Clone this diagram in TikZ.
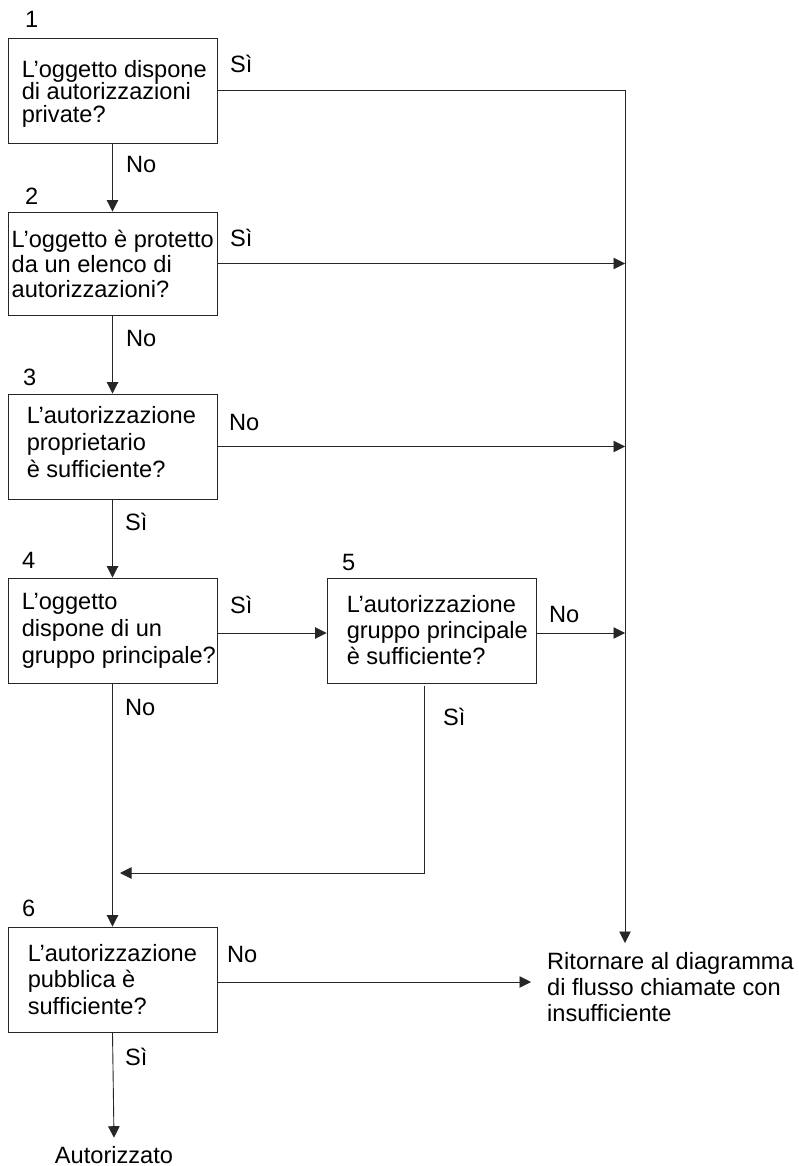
\documentclass[tikz,border=0pt]{standalone}
\usepackage{fontspec}
\setmainfont{Liberation Sans}
\usetikzlibrary{arrows.meta}
\begin{document}
\begin{tikzpicture}[x=1pt, y=-1pt,
  every node/.style={inner sep=0pt, font=\fontsize{23.6}{26}\selectfont},
  qbox/.style={draw=black!85, line width=0.9pt, minimum width=209pt, minimum height=105pt},
  qtext/.style={anchor=west, align=left},
  lbl/.style={anchor=base west},
  wire/.style={draw=black!85, line width=0.9pt},
  flow/.style={wire, -{Triangle[length=11.5pt,width=11.5pt]}},
]
\useasboundingbox (0,0) rectangle (799,1166);

% decision boxes
\node[qbox] (b1) at (112.5,90.5) {};
\node[qbox, minimum height=103pt] (b2) at (112.5,263.5) {};
\node[qbox] (b3) at (112.5,446.5) {};
\node[qbox] (b4) at (112.5,630.5) {};
\node[qbox] (b5) at (431.5,630.5) {};
\node[qbox] (b6) at (112.5,979.5) {};

% box texts
\node[qtext, font=\fontsize{23.6}{22.5}\selectfont] (t1) at ([xshift=14pt,yshift=-3pt]b1.west) {L’oggetto dispone\\di autorizzazioni\\private?};
\node[qtext, font=\fontsize{23.6}{25}\selectfont] (t2) at ([xshift=4pt]b2.west) {L’oggetto è protetto\\da un elenco di\\autorizzazioni?};
\node[qtext, font=\fontsize{23.6}{27}\selectfont] (t3) at ([xshift=19pt,yshift=4pt]b3.west) {L’autorizzazione\\proprietario\\è sufficiente?};
\node[qtext, font=\fontsize{23.6}{27}\selectfont] (t4) at ([xshift=14pt]b4.west) {L’oggetto\\dispone di un\\gruppo principale?};
\node[qtext, font=\fontsize{23.6}{26}\selectfont] (t5) at ([xshift=20pt]b5.west) {L’autorizzazione\\gruppo principale\\è sufficiente?};
\node[qtext, font=\fontsize{23.6}{26.5}\selectfont] (t6) at ([xshift=20pt]b6.west) {L’autorizzazione\\pubblica è\\sufficiente?};

% step numbers
\node[lbl] (k1) at (25,28) {1};
\node[lbl] (k2) at (25,205) {2};
\node[lbl] (k3) at (23,385) {3};
\node[lbl] (k4) at (22,568) {4};
\node[lbl] (k5) at (342,570) {5};
\node[lbl] (k6) at (22,916) {6};

% branch labels
\node[lbl] (s1) at (230,73) {Sì};
\node[lbl] (n1) at (126,173) {No};
\node[lbl] (s2) at (230,247) {Sì};
\node[lbl] (n2) at (126,346) {No};
\node[lbl] (n3) at (229,430) {No};
\node[lbl] (s3) at (125,530) {Sì};
\node[lbl] (s4) at (230,613) {Sì};
\node[lbl] (n5) at (549,622) {No};
\node[lbl] (n4) at (125,715) {No};
\node[lbl] (s5) at (443,725) {Sì};
\node[lbl] (n6) at (227,962) {No};
\node[lbl] (s6) at (125,1065) {Sì};

% end points
\node[anchor=west, align=left, font=\fontsize{23.6}{26}\selectfont] (ret) at (547,987.5)
  {Ritornare al diagramma\\di flusso chiamate con\\insufficiente};
\node[anchor=base] (auth) at (114,1163) {Autorizzato};

% rail to the failure exit
\coordinate (rtop) at (625,90.5);
\coordinate (rend) at (625,943);
\coordinate (rin) at (531,982);
\coordinate (mj) at (120,873);
\coordinate (m5) at ([xshift=-7.5pt,yshift=-3pt]b5.south);

\draw[wire] (b1.east) -- (rtop);
\draw[flow] (rtop) -- (rend);
\draw[flow] (b2.east) -- (b2.east -| rtop);
\draw[flow] (b3.east) -- (b3.east -| rtop);
\draw[flow] ([yshift=-2.5pt]b5.east) -- ([yshift=-2.5pt]b5.east -| rtop);

% main column
\draw[flow] (b1.south) -- (b2.north);
\draw[flow] (b2.south) -- (b3.north);
\draw[flow] (b3.south) -- (b4.north);
\draw[flow] (b4.south) -- (b6.north);
\draw[flow] ([yshift=-2.5pt]b4.east) -- ([yshift=-2.5pt]b5.west);
\draw[flow] (m5) -- (m5 |- mj) -- (mj);
\draw[flow] ([yshift=-2.5pt]b6.east) -- (rin);
\draw[flow] (b6.south) -- ([yshift=8pt]auth.north);
\end{tikzpicture}
\end{document}
